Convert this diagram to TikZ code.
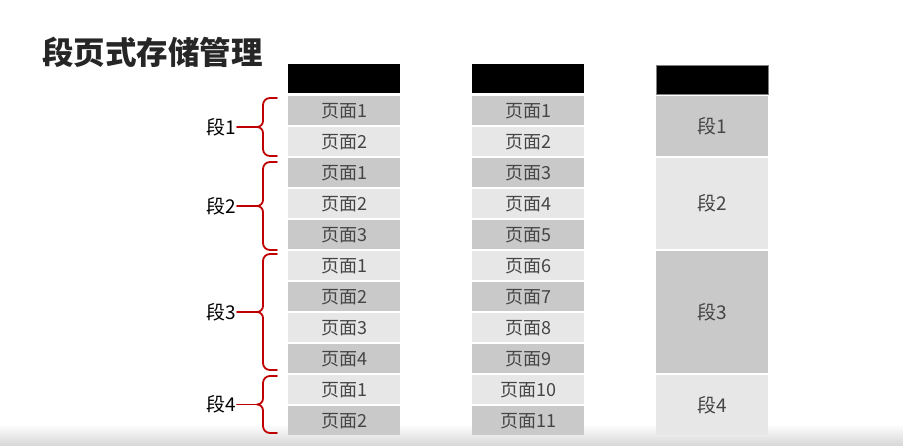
\documentclass[tikz,border=0pt]{standalone}
\usepackage{fontspec}
\setmainfont{Noto Sans CJK SC}
\definecolor{cdark}{HTML}{C9C9C9}
\definecolor{clight}{HTML}{E7E7E7}
\definecolor{txtgray}{HTML}{454545}
\definecolor{bred}{HTML}{C00000}
\definecolor{titlec}{HTML}{262626}
\newcommand\mybrace[4]{%
  \pgfmathsetmacro\bmid{(#1+#2)/2}%
  \node[seglbl] (#3) at (237,\bmid) {#4};
  \draw[brace] (277,#1) -- (270,#1) to[out=180,in=90] (263,#1+7) -- (263,\bmid-6)
     to[out=-90,in=0] (257,\bmid) to[out=0,in=90] (263,\bmid+6) -- (263,#2-7)
     to[out=-90,in=180] (270,#2) -- (277,#2);
  \draw[brace] (#3.east) -- (257,\bmid);
}
\begin{document}
\begin{tikzpicture}[x=1pt,y=-1pt,
  cell/.style={minimum width=112pt, minimum height=29pt, inner sep=0pt, text=txtgray,
     font=\fontsize{18}{18}\selectfont, anchor=north west},
  dk/.style={cell, fill=cdark},
  lt/.style={cell, fill=clight},
  hdr/.style={fill=black, minimum width=112pt, minimum height=29pt, inner sep=0pt, anchor=north west},
  brace/.style={draw=bred, line width=1.8pt, line join=round, line cap=round},
  seglbl/.style={font=\fontsize{19}{19}\selectfont, anchor=east, inner sep=1pt}]
\useasboundingbox (0,0) rectangle (903,446);
\fill[white] (0,0) rectangle (903,446);
\shade[top color=white, bottom color=black!16] (0,424) rectangle (903,446);

\node[anchor=west, font=\fontsize{31.5}{31.5}\selectfont\bfseries, text=titlec, inner sep=0pt] (title) at (42,52) {段页式存储管理};

% column 1
\node[hdr] (ah) at (288,64) {};
\foreach \i/\t/\s in {1/1/dk,2/2/lt,3/1/dk,4/2/lt,5/3/dk,6/1/lt,7/2/dk,8/3/lt,9/4/dk,10/1/lt,11/2/dk}
  \node[\s] (a\i) at (288,{96+31*(\i-1)}) {页面\t};

% column 2
\node[hdr] (bh) at (472,64) {};
\foreach \i/\s in {1/dk,2/lt,3/dk,4/lt,5/dk,6/lt,7/dk,8/lt,9/dk,10/lt,11/dk}
  \node[\s] (b\i) at (472,{96+31*(\i-1)}) {页面\i};

% column 3
\node[hdr, draw=gray, line width=0.6pt] (ch) at (656,65) {};
\node[dk, minimum height=60pt, font=\fontsize{19}{19}\selectfont] (c1) at (656,96) {段1};
\node[lt, minimum height=91pt, font=\fontsize{19}{19}\selectfont] (c2) at (656,158) {段2};
\node[dk, minimum height=122pt, font=\fontsize{19}{19}\selectfont] (c3) at (656,251) {段3};
\node[lt, minimum height=60pt, font=\fontsize{19}{19}\selectfont] (c4) at (656,375) {段4};

% braces
\mybrace{98}{156}{s1}{段1}
\mybrace{162}{250}{s2}{段2}
\mybrace{254}{370}{s3}{段3}
\mybrace{376}{433}{s4}{段4}
\end{tikzpicture}
\end{document}
